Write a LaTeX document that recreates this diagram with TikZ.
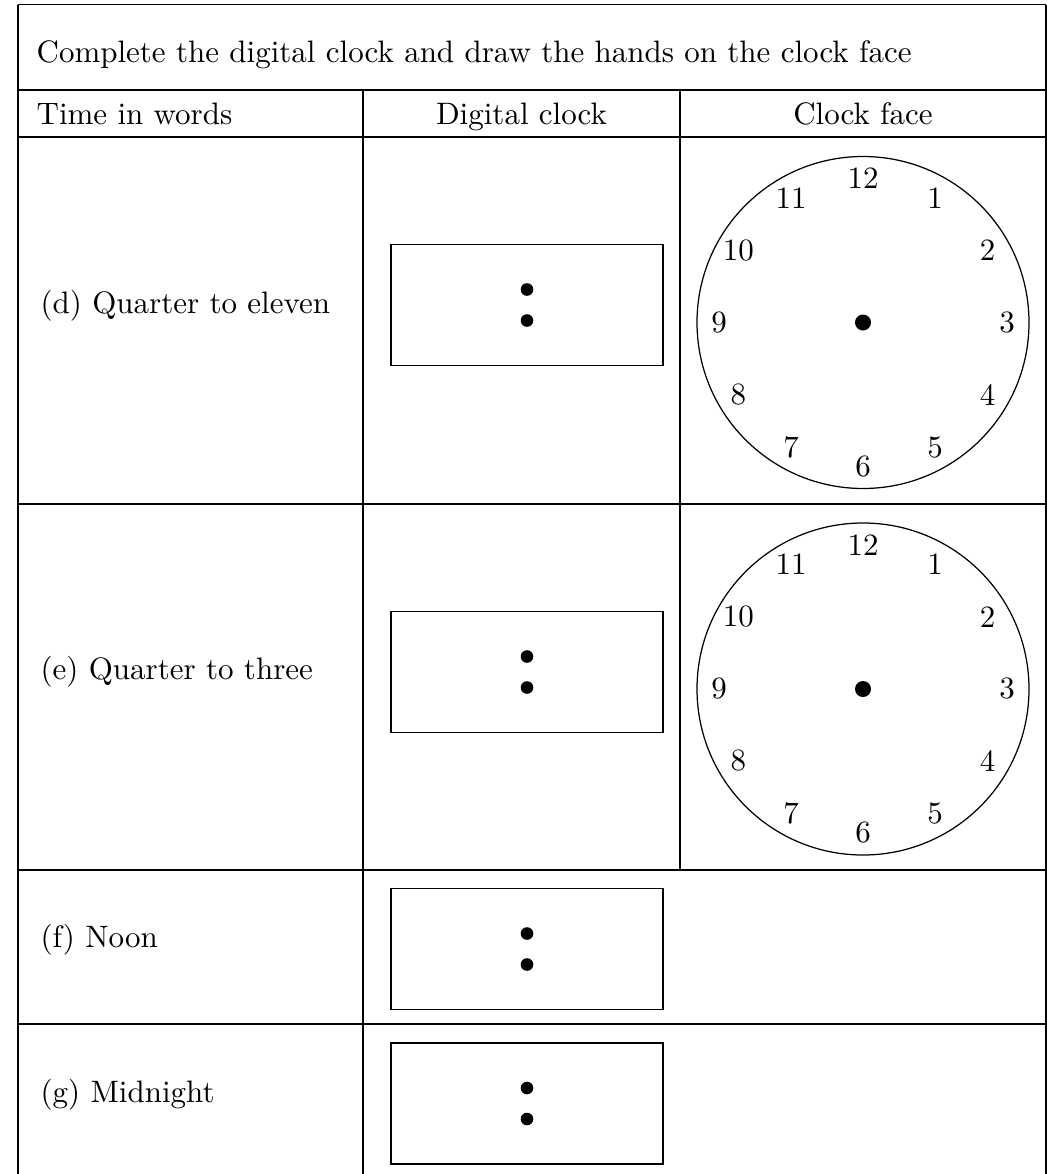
\documentclass[tikz,border=0pt]{standalone}
\usepackage{fontspec}
\begin{document}
\begin{tikzpicture}[x=0.3226pt,y=-0.3226pt,
  rule/.style={line width=0.4pt,black},
  txt/.style={inner sep=0pt,anchor=base west},
  hdr/.style={inner sep=0pt,anchor=base},
  digibox/.style={draw,line width=0.4pt,minimum width=272*0.3226pt,minimum height=121*0.3226pt,inner sep=0pt},
  digidot/.style={circle,fill=black,inner sep=0pt,minimum size=12.6*0.3226pt},
  face/.style={circle,draw,line width=0.4pt,minimum size=332*0.3226pt,inner sep=0pt},
  hub/.style={circle,fill=black,inner sep=0pt,minimum size=16*0.3226pt},
  num/.style={inner sep=0pt}]
\useasboundingbox (0,0) rectangle (1047,1174);
% table rules
\draw[rule] (18,4.5) -- (1046,4.5);
\draw[rule] (18,90) -- (1046,90);
\draw[rule] (18,137) -- (1046,137);
\draw[rule] (18,504) -- (1046,504);
\draw[rule] (18,870) -- (1046,870);
\draw[rule] (18,1024) -- (1046,1024);
\draw[rule] (18,4.5) -- (18,1174);
\draw[rule] (1046,4.5) -- (1046,1174);
\draw[rule] (363,90) -- (363,1174);
\draw[rule] (680,90) -- (680,870);
% texts
\node[txt] (title) at (36,62) {Complete the digital clock and draw the hands on the clock face};
\node[txt] (h1) at (36,124) {Time in words};
\node[hdr] (h2) at (521.5,124) {Digital clock};
\node[hdr] (h3) at (863,124) {Clock face};
\node[txt] (td) at (40,313) {(d) Quarter to eleven};
\node[txt] (te) at (40,679) {(e) Quarter to three};
\node[txt] (tf) at (40,947) {(f) Noon};
\node[txt] (tg) at (40,1102) {(g) Midnight};
% digital clocks
\foreach \n/\cy in {d/305,e/672,f/949,g/1103.5}{
  \node[digibox] (box\n) at (527,\cy) {};
  \node[digidot] (dotA\n) at (527,\cy-15.5) {};
  \node[digidot] (dotB\n) at (527,\cy+15.5) {};
}
% clock faces
\foreach \n/\cy in {d/322.5,e/689}{
  \node[face] (face\n) at (863,\cy) {};
  \node[hub] (hub\n) at (863,\cy) {};
  \foreach \h in {1,...,12}{
    \node[num] (num\n\h) at ({863+144*sin(30*\h)},{\cy-144*cos(30*\h)}) {\h};
  }
}
\end{tikzpicture}
\end{document}
